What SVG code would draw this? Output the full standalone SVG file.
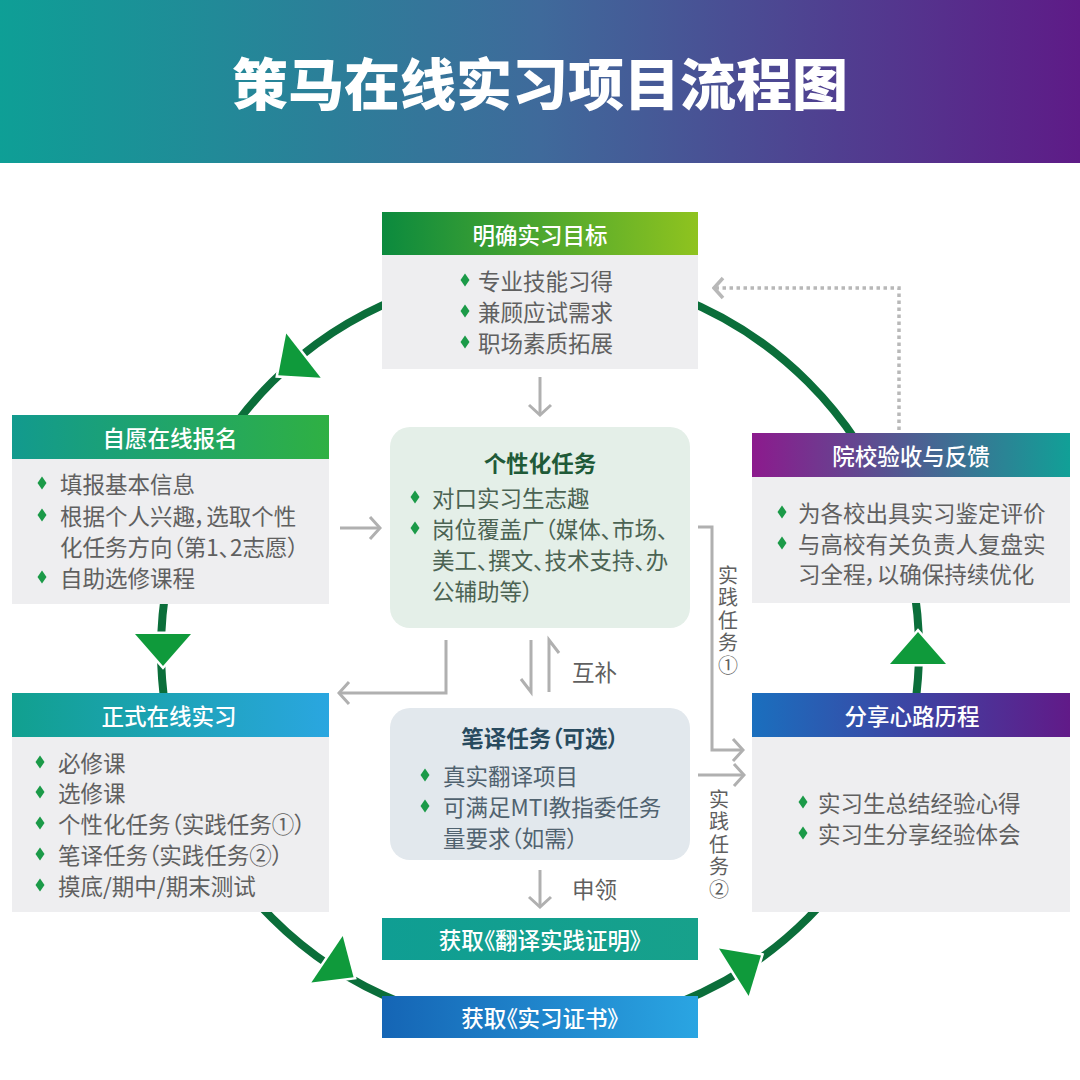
<svg xmlns="http://www.w3.org/2000/svg" xmlns:xlink="http://www.w3.org/1999/xlink" width="1080" height="1080" viewBox="0 0 1080 1080">
<defs>
<linearGradient id="gTitle" x1="0" y1="0" x2="1" y2="0"><stop offset="0" stop-color="#0e9f96"/><stop offset="0.5" stop-color="#3f6a9b"/><stop offset="1" stop-color="#5e1b87"/></linearGradient>
<linearGradient id="gTop" x1="0" y1="0" x2="1" y2="0"><stop offset="0" stop-color="#0b8a3e"/><stop offset="1" stop-color="#8fc31f"/></linearGradient>
<linearGradient id="gSign" x1="0" y1="0" x2="1" y2="0"><stop offset="0" stop-color="#129a8e"/><stop offset="1" stop-color="#2fb043"/></linearGradient>
<linearGradient id="gFeed" x1="0" y1="0" x2="1" y2="0"><stop offset="0" stop-color="#8c1a8d"/><stop offset="1" stop-color="#11a097"/></linearGradient>
<linearGradient id="gIntern" x1="0" y1="0" x2="1" y2="0"><stop offset="0" stop-color="#11a08f"/><stop offset="1" stop-color="#2aa6e0"/></linearGradient>
<linearGradient id="gShare" x1="0" y1="0" x2="1" y2="0"><stop offset="0" stop-color="#1a6fbe"/><stop offset="1" stop-color="#611a88"/></linearGradient>
<linearGradient id="gCert" x1="0" y1="0" x2="1" y2="0"><stop offset="0" stop-color="#1565b5"/><stop offset="1" stop-color="#2aa5e2"/></linearGradient>
<linearGradient id="gProof" x1="0" y1="0" x2="1" y2="0"><stop offset="0" stop-color="#0f9e93"/><stop offset="1" stop-color="#17a18b"/></linearGradient>
<path id="dm" d="M0,-6.5 L4.5,0 L0,6.5 L-4.5,0 Z" fill="#1b9a48"/>
<path id="cah" d="M-12,-28 L20,0 L-12,28 Z"/>
<marker id="chev" viewBox="-13 -13 15 26" markerWidth="15" markerHeight="26" refX="0" refY="0" orient="auto" markerUnits="userSpaceOnUse"><path d="M-10,-11 L0,0 L-10,11" fill="none" stroke="#b0b0b0" stroke-width="3"/></marker>
<marker id="chevd" viewBox="-13 -13 15 26" markerWidth="15" markerHeight="26" refX="0" refY="0" orient="auto" markerUnits="userSpaceOnUse"><path d="M-9,-10 L0,0 L-9,10" fill="none" stroke="#b8b8b8" stroke-width="3.5"/></marker>
</defs>
<style>
text { font-family: "Noto Sans CJK SC", "Noto Sans", sans-serif; font-feature-settings: "palt"; }
.ttl { fill:#fff; font-size:56px; font-weight:900; text-anchor:middle; dominant-baseline:central; }
.hd { fill:#fff; font-size:22.5px; font-weight:500; text-anchor:middle; dominant-baseline:central; }
.bd { fill:#606060; font-size:22.5px; font-weight:400; dominant-baseline:central; }
.vt { fill:#606060; font-size:20px; font-weight:400; writing-mode:vertical-rl; letter-spacing:2.5px; font-feature-settings:normal; }
.body { fill:#eeeef0; }
.g1t { fill:#1f5a38; font-size:22.5px; font-weight:700; text-anchor:middle; dominant-baseline:central; }
.g1 { fill:#4b6353; font-size:22.5px; dominant-baseline:central; }
.g2t { fill:#284a5e; font-size:22.5px; font-weight:700; text-anchor:middle; dominant-baseline:central; }
.g2 { fill:#50626f; font-size:22.5px; dominant-baseline:central; }
.ln { fill:none; stroke:#b0b0b0; stroke-width:3; }
.cah { fill:#0f9a3b; stroke:#fff; stroke-width:5; paint-order:stroke; stroke-linejoin:miter; }
</style>
<rect width="1080" height="1080" fill="#fff"/>
<g id="title">
<rect x="0" y="0" width="1080" height="163" fill="url(#gTitle)"/>
<text class="ttl" x="540" y="80">策马在线实习项目流程图</text>
</g>
<g id="cycle">
<circle cx="540" cy="650" r="379" fill="none" stroke="#0b6e3a" stroke-width="8"/>
<use href="#cah" class="cah" transform="translate(294,363) rotate(142)"/>
<use href="#cah" class="cah" transform="translate(163,646) rotate(90)"/>
<use href="#cah" class="cah" transform="translate(337,966) rotate(34)"/>
<use href="#cah" class="cah" transform="translate(744,966) rotate(-32)"/>
<use href="#cah" class="cah" transform="translate(918,652) rotate(-90)"/>
</g>
<g id="node-goal">
<rect x="382" y="212" width="316" height="43" fill="url(#gTop)"/>
<rect class="body" x="382" y="255" width="316" height="114"/>
<text class="hd" x="540" y="234">明确实习目标</text>
<use href="#dm" x="465" y="280"/><text class="bd" x="478" y="280">专业技能习得</text>
<use href="#dm" x="465" y="311"/><text class="bd" x="478" y="311">兼顾应试需求</text>
<use href="#dm" x="465" y="342"/><text class="bd" x="478" y="342">职场素质拓展</text>
</g>
<g id="node-signup">
<rect x="12" y="415" width="317" height="44" fill="url(#gSign)"/>
<rect class="body" x="12" y="459" width="317" height="145"/>
<text class="hd" x="170" y="437">自愿在线报名</text>
<use href="#dm" x="42" y="483"/><text class="bd" x="60" y="483">填报基本信息</text>
<use href="#dm" x="42" y="515"/><text class="bd" x="60" y="515">根据个人兴趣，选取个性</text>
<text class="bd" x="60" y="546">化任务方向（第1、2志愿）</text>
<use href="#dm" x="42" y="577"/><text class="bd" x="60" y="577">自助选修课程</text>
</g>
<g id="node-feedback">
<rect x="752" y="433" width="318" height="44" fill="url(#gFeed)"/>
<rect class="body" x="752" y="477" width="318" height="126"/>
<text class="hd" x="911" y="455">院校验收与反馈</text>
<use href="#dm" x="782" y="512"/><text class="bd" x="798" y="512">为各校出具实习鉴定评价</text>
<use href="#dm" x="782" y="543"/><text class="bd" x="798" y="543">与高校有关负责人复盘实</text>
<text class="bd" x="798" y="573">习全程，以确保持续优化</text>
</g>
<g id="node-intern">
<rect x="12" y="693" width="317" height="44" fill="url(#gIntern)"/>
<rect class="body" x="12" y="737" width="317" height="175"/>
<text class="hd" x="169" y="715">正式在线实习</text>
<use href="#dm" x="40" y="762"/><text class="bd" x="58" y="762">必修课</text>
<use href="#dm" x="40" y="792"/><text class="bd" x="58" y="792">选修课</text>
<use href="#dm" x="40" y="823"/><text class="bd" x="58" y="823">个性化任务（实践任务①）</text>
<use href="#dm" x="40" y="854"/><text class="bd" x="58" y="854">笔译任务（实践任务②）</text>
<use href="#dm" x="40" y="885"/><text class="bd" x="58" y="885">摸底/期中/期末测试</text>
</g>
<g id="node-share">
<rect x="752" y="693" width="318" height="44" fill="url(#gShare)"/>
<rect class="body" x="752" y="737" width="318" height="175"/>
<text class="hd" x="912" y="715">分享心路历程</text>
<use href="#dm" x="803" y="802"/><text class="bd" x="818" y="802">实习生总结经验心得</text>
<use href="#dm" x="803" y="833"/><text class="bd" x="818" y="833">实习生分享经验体会</text>
</g>
<g id="node-task">
<rect x="390" y="427" width="300" height="201" rx="20" fill="#e4efe8"/>
<text class="g1t" x="540" y="462">个性化任务</text>
<use href="#dm" x="415" y="497"/><text class="g1" x="432" y="497">对口实习生志趣</text>
<use href="#dm" x="415" y="528"/><text class="g1" x="432" y="528">岗位覆盖广（媒体、市场、</text>
<text class="g1" x="432" y="559">美工、撰文、技术支持、办</text>
<text class="g1" x="432" y="590">公辅助等）</text>
</g>
<g id="node-translate">
<rect x="390" y="708" width="300" height="152" rx="20" fill="#e2e8ed"/>
<text class="g2t" x="540" y="737">笔译任务（可选）</text>
<use href="#dm" x="425" y="775"/><text class="g2" x="443" y="775">真实翻译项目</text>
<use href="#dm" x="425" y="806"/><text class="g2" x="443" y="806">可满足MTI教指委任务</text>
<text class="g2" x="443" y="837">量要求（如需）</text>
</g>
<g id="node-proof">
<rect x="382" y="918" width="316" height="42" fill="url(#gProof)"/>
<text class="hd" x="540" y="939">获取《翻译实践证明》</text>
</g>
<g id="node-cert">
<rect x="382" y="996" width="316" height="42" fill="url(#gCert)"/>
<text class="hd" x="540" y="1017">获取《实习证书》</text>
</g>
<g id="connectors">
<path class="ln" d="M540,377 V415" marker-end="url(#chev)"/>
<path class="ln" d="M340,528 H380" marker-end="url(#chev)"/>
<path class="ln" d="M446,640 V693 H339" marker-end="url(#chev)"/>
<path class="ln" d="M531,640 V692 L521,679"/>
<path class="ln" d="M549,692 V640 L559,653"/>
<path class="ln" d="M698,527 H712 V750 H743" marker-end="url(#chev)"/>
<path class="ln" d="M698,775 H744" marker-end="url(#chev)"/>
<path class="ln" d="M540,870 V907" marker-end="url(#chev)"/>
<path d="M899,430 V288 H714" fill="none" stroke="#b8b8b8" stroke-width="3.5" stroke-dasharray="3.5 3.5" marker-end="url(#chevd)"/>
<text class="bd" x="572" y="671">互补</text>
<text class="bd" x="572" y="888">申领</text>
<text class="vt" x="728" y="565">实践任务①</text>
<text class="vt" x="719" y="789">实践任务②</text>
</g>
</svg>
